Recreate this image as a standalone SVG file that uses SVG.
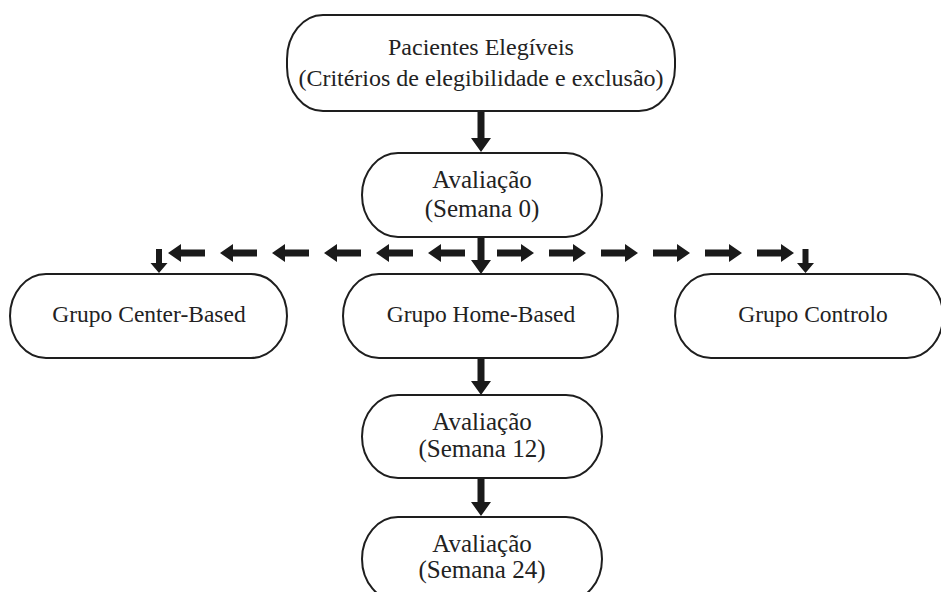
<svg xmlns="http://www.w3.org/2000/svg" width="941" height="592" viewBox="0 0 941 592">
  <style>
    .box { fill: #ffffff; stroke: #1e1e1e; stroke-width: 2; }
    .t { font-family: "Liberation Serif", "Times New Roman", serif; font-size: 24px; fill: #222222; text-anchor: middle; }
    .ta { font-family: "Liberation Serif", "Times New Roman", serif; font-size: 25px; fill: #222222; text-anchor: middle; }
    .t2 { font-family: "Liberation Serif", "Times New Roman", serif; font-size: 23.5px; fill: #222222; text-anchor: middle; }
    .arr { fill: #1a1a1a; stroke: none; }
  </style>
  <defs>
    <path id="al" d="M0,0 L13,-9 L13,-3.5 L37,-3.5 L37,3.5 L13,3.5 L13,9 Z"/>
    <path id="ar" d="M0,0 L-13,-9 L-13,-3.5 L-37,-3.5 L-37,3.5 L-13,3.5 L-13,9 Z"/>
  </defs>
  <rect width="941" height="592" fill="#ffffff"/>

  <g id="n-pacientes">
    <rect class="box" x="287" y="15" width="388" height="96" rx="36" ry="44"/>
    <text class="t" x="481" y="55">Pacientes Elegíveis</text>
    <text class="t" x="481" y="86">(Critérios de elegibilidade e exclusão)</text>
  </g>

  <g id="n-aval0">
    <rect class="box" x="362" y="153" width="240" height="84" rx="36" ry="42"/>
    <text class="ta" x="482" y="188">Avaliação</text>
    <text class="ta" x="482" y="217">(Semana 0)</text>
  </g>

  <g id="n-center">
    <rect class="box" x="10" y="274" width="277" height="84" rx="36" ry="42"/>
    <text class="t2" x="149" y="322">Grupo Center-Based</text>
  </g>

  <g id="n-home">
    <rect class="box" x="343" y="274" width="275" height="84" rx="36" ry="42"/>
    <text class="t2" x="481" y="322">Grupo Home-Based</text>
  </g>

  <g id="n-controlo">
    <rect class="box" x="675" y="274" width="268" height="84" rx="36" ry="42"/>
    <text class="t2" x="813" y="322">Grupo Controlo</text>
  </g>

  <g id="n-aval12">
    <rect class="box" x="362" y="395" width="240" height="83" rx="36" ry="41.5"/>
    <text class="ta" x="482" y="430">Avaliação</text>
    <text class="ta" x="482" y="457">(Semana 12)</text>
  </g>

  <g id="n-aval24">
    <rect class="box" x="362" y="517" width="240" height="84" rx="36" ry="42"/>
    <text class="ta" x="482" y="552">Avaliação</text>
    <text class="ta" x="482" y="578">(Semana 24)</text>
  </g>

  <g id="connectors" class="arr">
    <path d="M477.5,112 L484.5,112 L484.5,138 L491,138 L481,152 L471,138 L477.5,138 Z"/>
    <path d="M477.5,238 L484.5,238 L484.5,260 L491,260 L481,274 L471,260 L477.5,260 Z"/>
    <path d="M477.5,359 L484.5,359 L484.5,381 L491,381 L481,395 L471,381 L477.5,381 Z"/>
    <path d="M477.5,479 L484.5,479 L484.5,502 L491,502 L481,516 L471,502 L477.5,502 Z"/>
    <use href="#al" x="168" y="253"/>
    <use href="#al" x="220" y="253"/>
    <use href="#al" x="272" y="253"/>
    <use href="#al" x="324" y="253"/>
    <use href="#al" x="376" y="253"/>
    <use href="#al" x="428" y="253"/>
    <use href="#ar" x="534" y="253"/>
    <use href="#ar" x="586" y="253"/>
    <use href="#ar" x="638" y="253"/>
    <use href="#ar" x="690" y="253"/>
    <use href="#ar" x="742" y="253"/>
    <use href="#ar" x="794" y="253"/>
    <path d="M156,249 L162,249 L162,263 L167.5,263 L159,273 L150.5,263 L156,263 Z"/>
    <path d="M802.5,249 L808.5,249 L808.5,263 L814,263 L805.5,273 L797,263 L802.5,263 Z"/>
  </g>
</svg>
